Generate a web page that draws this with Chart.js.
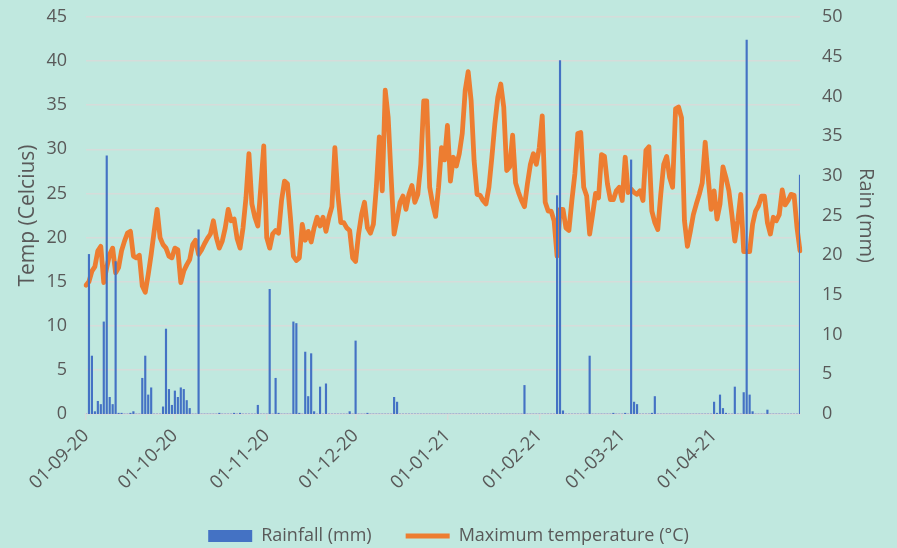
<!DOCTYPE html>
<html>
<head>
<meta charset="utf-8">
<title>Rainfall and maximum temperature</title>
<script src="https://cdn.jsdelivr.net/npm/chart.js@4.4.1/dist/chart.umd.min.js"></script>
<style>
  body { margin: 0; background: #c0e8df; }
  #wrap { width: 897px; height: 548px; }
</style>
</head>
<body>
<div id="wrap"><canvas id="rainChart" width="897" height="548"></canvas></div>
<script>
// -------- Data --------

const months = ['09-20', '10-20', '11-20', '12-20', '01-21', '02-21', '03-21', '04-21'];
const monthDays = [30, 31, 30, 31, 31, 28, 31, 30];

const tempTicks = [0, 5, 10, 15, 20, 25, 30, 35, 40, 45];
const rainTicks = [0, 5, 10, 15, 20, 25, 30, 35, 40, 45, 50];

// daily maximum temperature (°C), 1 Sep 2020 - 30 Apr 2021
const maxTemp = [
    // Sep
    14.6, 15.0, 16.2, 16.7, 18.5, 19.0, 14.9, 16.6, 18.1, 18.8,
    16.0, 16.6, 18.5, 19.6, 20.5, 20.7, 17.9, 17.7, 18.0, 14.5,
    13.8, 15.8, 18.1, 20.7, 23.2, 20.0, 19.2, 18.8, 17.9, 17.7,
    // Oct
    18.8, 18.6, 14.9, 16.2, 16.9, 17.5, 19.2, 19.7, 18.1, 18.6,
    19.3, 19.9, 20.4, 21.9, 20.0, 18.8, 19.6, 21.1, 23.2, 21.9,
    22.1, 19.9, 18.8, 21.1, 24.5, 29.5, 23.8, 22.3, 21.3, 25.7, 30.4,
    // Nov
    20.0, 18.8, 20.4, 20.8, 20.5, 24.2, 26.4, 26.1, 22.3,
    17.9, 17.4, 17.7, 21.5, 19.7, 20.7, 19.5, 21.1, 22.3, 21.3,
    22.3, 20.7, 22.3, 23.5, 30.2, 24.9, 21.7, 21.7, 21.1, 20.8, 17.7,
    // Dec
    17.3, 20.4, 22.6, 24.0, 21.1, 20.5, 21.5, 25.7, 31.4,
    25.3, 36.7, 33.6, 26.8, 20.4, 22.1, 24.0, 24.7, 23.2, 24.9,
    25.9, 24.0, 24.9, 28.3, 35.5, 35.5, 25.7, 23.8, 22.4, 25.7, 30.2, 28.8,
    // Jan
    32.7, 26.4, 29.1, 28.1, 29.5, 31.8, 36.7, 38.8,
    35.5, 28.7, 24.9, 24.8, 24.2, 23.8, 25.7, 29.1, 32.9, 35.9,
    37.4, 34.8, 27.6, 28.0, 31.6, 26.2, 25.1, 24.2, 23.5, 26.1,
    28.3, 29.5, 28.3,
    // Feb
    30.2, 33.8, 24.0, 23.0, 23.0, 21.9, 17.9,
    23.2, 23.2, 21.1, 20.8, 24.2, 27.2, 31.8, 31.9, 25.7, 24.7,
    20.4, 22.6, 25.0, 24.5, 29.4, 29.2, 26.1, 24.3, 24.3, 25.3,
    // Mar
    25.7, 24.2, 29.1, 25.1, 25.5, 25.1, 24.9, 25.3, 24.2, 29.9,
    30.3, 23.0, 21.7, 20.9, 24.9, 28.3, 29.2, 26.8, 25.7, 34.6,
    34.8, 33.6, 21.9, 19.0, 20.7, 22.6, 23.8, 24.9, 26.2, 30.8, 26.8,
    // Apr
    23.2, 25.3, 22.1, 23.8, 28.0, 26.8, 25.3, 22.6, 19.6,
    21.9, 24.9, 18.4, 18.4, 18.4, 21.5, 23.0, 23.6, 24.7, 24.7,
    21.7, 20.4, 22.3, 21.9, 22.6, 25.4, 23.7, 24.2, 24.9, 24.8,
    21.1, 18.5
];

// daily rainfall (mm)
const rainfall = [
    // Sep
    0, 20.1, 7.3, 0.3, 1.6, 1.2, 11.6, 32.5, 2.1, 1.2,
    19.2, 0.1, 0.1, 0, 0, 0.1, 0.3, 0, 0, 4.5,
    7.3, 2.4, 3.3, 0, 0, 0, 0.9, 10.7, 3.1, 1.1,
    // Oct
    2.9, 2.1, 3.3, 3.1, 1.7, 0.7, 0, 0, 23.2, 0,
    0, 0, 0, 0, 0, 0.1, 0, 0, 0, 0,
    0.1, 0, 0.1, 0, 0, 0, 0, 0, 1.1, 0, 0,
    // Nov
    0, 15.7, 0, 4.5, 0.1, 0, 0, 0, 0, 11.6,
    11.4, 0.1, 0, 7.8, 2.2, 7.6, 0.3, 0, 3.4, 0,
    3.8, 0, 0, 0, 0, 0, 0, 0, 0.3, 0,
    // Dec
    9.2, 0, 0, 0, 0.1, 0, 0, 0, 0, 0,
    0, 0, 0, 2.1, 1.5, 0, 0, 0, 0, 0,
    0, 0, 0, 0, 0, 0, 0, 0, 0, 0, 0,
    // Jan
    0, 0, 0, 0, 0, 0, 0, 0, 0, 0,
    0, 0, 0, 0, 0, 0, 0, 0, 0, 0,
    0, 0, 0, 0, 0, 0, 3.6, 0, 0, 0, 0,
    // Feb
    0, 0, 0, 0, 0, 0, 27.5, 44.5, 0.4, 0,
    0, 0, 0, 0, 0, 0, 0, 7.3, 0, 0,
    0, 0, 0, 0, 0, 0.1, 0, 0,
    // Mar
    0, 0.1, 0, 32.0, 1.5, 1.2, 0, 0, 0, 0,
    0.1, 2.2, 0, 0, 0, 0, 0, 0, 0, 0,
    0, 0, 0, 0, 0, 0, 0, 0, 0, 0, 0,
    // Apr
    1.5, 0.1, 2.4, 0.7, 0.1, 0, 0, 3.4, 0, 0,
    2.7, 47.1, 2.4, 0.3, 0, 0, 0, 0, 0.5, 0,
    0, 0, 0, 0, 0, 0, 0, 0, 0, 30.1
];

// day labels dd-mm-yy
let days = [];
for(let m=0; m<months.length; m++){
    for(let d=1; d<=monthDays[m]; d++){
        days.push((d < 10 ? "0" + d : "" + d) + "-" + months[m]);
    }
}

// -------- Chart --------

const textColor = '#595959';
const gridColor = '#d6dcda';
const font = '"Open Sans", Lato, sans-serif';

window.onload = function(){

    const ctx = document.getElementById('rainChart').getContext('2d');

    new Chart(ctx, {
        type: 'bar',
        data: {
            labels: days,
            datasets: [{
                type: 'bar',
                label: 'Rainfall (mm)',
                data: rainfall,
                yAxisID: 'yRain',
                backgroundColor: '#4472c4',
                borderWidth: 0,
                barThickness: 1.5,
                pointStyle: 'rect',
                order: 0
            }, {
                type: 'line',
                label: 'Maximum temperature (°C)',
                data: maxTemp,
                yAxisID: 'yTemp',
                borderColor: '#ed7d31',
                backgroundColor: '#ed7d31',
                borderWidth: 4.8,
                borderJoinStyle: 'round',
                borderCapStyle: 'round',
                pointRadius: 0,
                pointStyle: 'line',
                tension: 0,
                order: 1
            }]
        },
        options: {
            responsive: false,
            animation: false,
            layout: {
                padding: { top: 17, left: 0, right: 0, bottom: -7 }
            },
            plugins: {
                tooltip: { enabled: false },
                legend: {
                    position: 'bottom',
                    labels: {
                        usePointStyle: true,
                        pointStyleWidth: 44,
                        boxHeight: 12,
                        padding: 34,
                        color: textColor,
                        font: { family: font, size: 18 }
                    }
                }
            },
            scales: {
                x: {
                    offset: false,
                    grid: {
                        offset: false,
                        drawOnChartArea: false,
                        drawTicks: true,
                        tickLength: 6,
                        lineWidth: 1.5,
                        color: function(c){
                            return days[c.index] && days[c.index].startsWith('01-') ? gridColor : 'rgba(0,0,0,0)';
                        }
                    },
                    border: { display: true, color: gridColor, width: 1.5 },
                    ticks: {
                        autoSkip: false,
                        maxRotation: 45,
                        minRotation: 45,
                        padding: 5,
                        color: textColor,
                        font: { family: font, size: 18.5 },
                        callback: function(value, index){
                            return days[index].startsWith('01-') ? days[index] : '';
                        }
                    },
                    afterFit: function(scale){ scale.height = 79; }
                },
                yTemp: {
                    position: 'left',
                    min: 0,
                    max: 45,
                    afterBuildTicks: function(scale){
                        scale.ticks = tempTicks.map(v => ({ value: v }));
                    },
                    grid: {
                        color: gridColor,
                        lineWidth: 1.5,
                        drawTicks: true,
                        tickLength: 17,
                        tickColor: 'rgba(0,0,0,0)'
                    },
                    border: { display: false },
                    ticks: {
                        padding: 2,
                        color: textColor,
                        font: { family: font, size: 18 }
                    },
                    title: {
                        display: true,
                        text: 'Temp (Celcius)',
                        color: textColor,
                        font: { family: font, size: 21 },
                        padding: { top: 15, bottom: 0 }
                    },
                    afterFit: function(scale){ scale.width = 86; }
                },
                yRain: {
                    position: 'right',
                    min: 0,
                    max: 50,
                    afterBuildTicks: function(scale){
                        scale.ticks = rainTicks.map(v => ({ value: v }));
                    },
                    grid: {
                        display: false,
                        drawTicks: true,
                        tickLength: 20,
                        tickColor: 'rgba(0,0,0,0)'
                    },
                    border: { display: false },
                    ticks: {
                        padding: 2,
                        color: textColor,
                        font: { family: font, size: 18 }
                    },
                    title: {
                        display: true,
                        text: 'Rain (mm)',
                        color: textColor,
                        font: { family: font, size: 20 },
                        padding: { top: 19, bottom: 0 }
                    },
                    afterFit: function(scale){ scale.width = 97; }
                }
            }
        }
    });

};
</script>
</body>
</html>
